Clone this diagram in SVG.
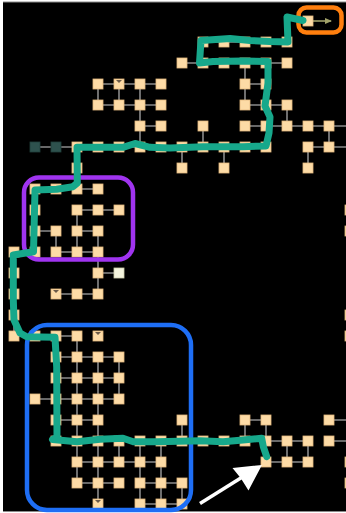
<svg xmlns="http://www.w3.org/2000/svg" xmlns:xlink="http://www.w3.org/1999/xlink" width="346" height="513" viewBox="0 0 346 513">
<style>
.n{fill:#fddba6;stroke:#e3b97f;stroke-width:0.8}
.dk{fill:#2e524e;stroke:#22403c;stroke-width:0.8}
.lt{fill:#f4f4de;stroke:#cfcfae;stroke-width:0.8}
.tri{fill:#6b5a48}
.edge{fill:none;stroke:#8a8a8a;stroke-width:1.6}
.green{fill:none;stroke:#17a88b;stroke-width:7;stroke-linecap:round;stroke-linejoin:round}
.box{fill:none;stroke-width:4.5}
</style>
<defs>
<rect id="nd" x="-5" y="-5" width="10" height="10" class="n"/>
<rect id="nk" x="-5" y="-5" width="10" height="10" class="dk"/>
<rect id="nl" x="-5" y="-5" width="10" height="10" class="lt"/>
<marker id="ah" markerWidth="8" markerHeight="8" refX="6" refY="4" orient="auto" markerUnits="userSpaceOnUse"><path d="M0,1 L7,4 L0,7 Z" fill="#a3a36a"/></marker>
</defs>
<rect x="0" y="0" width="346" height="513" fill="#ffffff"/>
<rect x="3" y="2" width="343" height="509.5" fill="#000000"/>
<line x1="3" y1="2" x2="346" y2="2" stroke="#8a8a8a" stroke-width="1"/>
<line x1="3" y1="511.5" x2="346" y2="511.5" stroke="#8a8a8a" stroke-width="1"/>

<g id="connectors">
<path class="edge" d="M203 42H287 M182 63H287 M98 84H161 M245 84H266 M98 105H161 M245 105H287 M140 126H161 M245 126H346 M35 147H266 M308 147H346 M35 189H98 M77 210H119 M35 231H56 M77 231H98 M56 252H98 M98 273H119 M56 294H98 M14 336H77 M56 357H119 M56 378H119 M35 399H119 M56 420H98 M245 420H266 M329 420H346 M56 441H308 M329 441H346 M77 462H161 M266 462H308 M77 483H119 M140 483H182 M140 504H182
M98 84V105 M98 231V294 M119 84V105 M140 84V147 M77 147V168 M77 210V252 M77 336V483 M182 147V168 M182 420V441 M182 483V504 M203 126V147 M224 147V168 M245 63V105 M245 420V441 M266 420V462 M287 105V126 M287 441V462 M308 147V168 M308 441V462 M329 126V147 M56 231V252 M56 336V441 M14 252V336 M98 357V504 M119 357V399 M119 441V462 M140 441V504 M161 441V504"/>
<line x1="313" y1="21" x2="331" y2="21" stroke="#a3a36a" stroke-width="1.6" marker-end="url(#ah)"/>
</g>

<g id="nodes">
<g id="n14_0"><use href="#nd" x="308" y="21"/></g>
<g id="n9_1"><use href="#nd" x="203" y="42"/></g>
<g id="n10_1"><use href="#nd" x="224" y="42"/></g>
<g id="n11_1"><use href="#nd" x="245" y="42"/></g>
<g id="n12_1"><use href="#nd" x="266" y="42"/></g>
<g id="n13_1"><use href="#nd" x="287" y="42"/></g>
<g id="n8_2"><use href="#nd" x="182" y="63"/></g>
<g id="n9_2"><use href="#nd" x="203" y="63"/></g>
<g id="n10_2"><use href="#nd" x="224" y="63"/></g>
<g id="n11_2"><use href="#nd" x="245" y="63"/></g>
<g id="n12_2"><use href="#nd" x="266" y="63"/></g>
<g id="n13_2"><use href="#nd" x="287" y="63"/></g>
<g id="n4_3"><use href="#nd" x="98" y="84"/></g>
<g id="n5_3"><use href="#nd" x="119" y="84"/><polygon class="tri" points="116,80 122,80 119,83"/></g>
<g id="n6_3"><use href="#nd" x="140" y="84"/></g>
<g id="n7_3"><use href="#nd" x="161" y="84"/></g>
<g id="n11_3"><use href="#nd" x="245" y="84"/></g>
<g id="n12_3"><use href="#nd" x="266" y="84"/></g>
<g id="n4_4"><use href="#nd" x="98" y="105"/></g>
<g id="n5_4"><use href="#nd" x="119" y="105"/></g>
<g id="n6_4"><use href="#nd" x="140" y="105"/></g>
<g id="n7_4"><use href="#nd" x="161" y="105"/></g>
<g id="n11_4"><use href="#nd" x="245" y="105"/></g>
<g id="n12_4"><use href="#nd" x="266" y="105"/></g>
<g id="n13_4"><use href="#nd" x="287" y="105"/></g>
<g id="n6_5"><use href="#nd" x="140" y="126"/></g>
<g id="n7_5"><use href="#nd" x="161" y="126"/></g>
<g id="n9_5"><use href="#nd" x="203" y="126"/></g>
<g id="n11_5"><use href="#nd" x="245" y="126"/></g>
<g id="n12_5"><use href="#nd" x="266" y="126"/></g>
<g id="n13_5"><use href="#nd" x="287" y="126"/></g>
<g id="n14_5"><use href="#nd" x="308" y="126"/></g>
<g id="n15_5"><use href="#nd" x="329" y="126"/></g>
<g id="n1_6"><use href="#nk" x="35" y="147"/></g>
<g id="n2_6"><use href="#nk" x="56" y="147"/></g>
<g id="n3_6"><use href="#nd" x="77" y="147"/></g>
<g id="n4_6"><use href="#nd" x="98" y="147"/></g>
<g id="n5_6"><use href="#nd" x="119" y="147"/></g>
<g id="n6_6"><use href="#nd" x="140" y="147"/></g>
<g id="n7_6"><use href="#nd" x="161" y="147"/></g>
<g id="n8_6"><use href="#nd" x="182" y="147"/></g>
<g id="n9_6"><use href="#nd" x="203" y="147"/></g>
<g id="n10_6"><use href="#nd" x="224" y="147"/></g>
<g id="n11_6"><use href="#nd" x="245" y="147"/></g>
<g id="n12_6"><use href="#nd" x="266" y="147"/></g>
<g id="n14_6"><use href="#nd" x="308" y="147"/></g>
<g id="n15_6"><use href="#nd" x="329" y="147"/></g>
<g id="n3_7"><use href="#nd" x="77" y="168"/></g>
<g id="n8_7"><use href="#nd" x="182" y="168"/></g>
<g id="n10_7"><use href="#nd" x="224" y="168"/></g>
<g id="n14_7"><use href="#nd" x="308" y="168"/></g>
<g id="n1_8"><use href="#nd" x="35" y="189"/></g>
<g id="n2_8"><use href="#nd" x="56" y="189"/></g>
<g id="n3_8"><use href="#nd" x="77" y="189"/></g>
<g id="n4_8"><use href="#nd" x="98" y="189"/></g>
<g id="n1_9"><use href="#nd" x="35" y="210"/></g>
<g id="n3_9"><use href="#nd" x="77" y="210"/></g>
<g id="n4_9"><use href="#nd" x="98" y="210"/></g>
<g id="n5_9"><use href="#nd" x="119" y="210"/></g>
<g id="n16_9"><use href="#nd" x="350" y="210"/></g>
<g id="n1_10"><use href="#nd" x="35" y="231"/></g>
<g id="n2_10"><use href="#nd" x="56" y="231"/></g>
<g id="n3_10"><use href="#nd" x="77" y="231"/></g>
<g id="n4_10"><use href="#nd" x="98" y="231"/></g>
<g id="n16_10"><use href="#nd" x="350" y="231"/></g>
<g id="n0_11"><use href="#nd" x="14" y="252"/></g>
<g id="n1_11"><use href="#nd" x="35" y="252"/></g>
<g id="n2_11"><use href="#nd" x="56" y="252"/></g>
<g id="n3_11"><use href="#nd" x="77" y="252"/></g>
<g id="n4_11"><use href="#nd" x="98" y="252"/></g>
<g id="n0_12"><use href="#nd" x="14" y="273"/></g>
<g id="n4_12"><use href="#nd" x="98" y="273"/></g>
<g id="n5_12"><use href="#nl" x="119" y="273"/></g>
<g id="n0_13"><use href="#nd" x="14" y="294"/></g>
<g id="n2_13"><use href="#nd" x="56" y="294"/><polygon class="tri" points="53,290 59,290 56,293"/></g>
<g id="n3_13"><use href="#nd" x="77" y="294"/></g>
<g id="n4_13"><use href="#nd" x="98" y="294"/></g>
<g id="n0_14"><use href="#nd" x="14" y="315"/></g>
<g id="n16_14"><use href="#nd" x="350" y="315"/></g>
<g id="n0_15"><use href="#nd" x="14" y="336"/></g>
<g id="n1_15"><use href="#nd" x="35" y="336"/></g>
<g id="n2_15"><use href="#nd" x="56" y="336"/></g>
<g id="n3_15"><use href="#nd" x="77" y="336"/></g>
<g id="n4_15"><use href="#nd" x="98" y="336"/><polygon class="tri" points="95,332 101,332 98,335"/></g>
<g id="n16_15"><use href="#nd" x="350" y="336"/></g>
<g id="n2_16"><use href="#nd" x="56" y="357"/></g>
<g id="n3_16"><use href="#nd" x="77" y="357"/></g>
<g id="n4_16"><use href="#nd" x="98" y="357"/></g>
<g id="n5_16"><use href="#nd" x="119" y="357"/></g>
<g id="n2_17"><use href="#nd" x="56" y="378"/></g>
<g id="n3_17"><use href="#nd" x="77" y="378"/></g>
<g id="n4_17"><use href="#nd" x="98" y="378"/></g>
<g id="n5_17"><use href="#nd" x="119" y="378"/></g>
<g id="n1_18"><use href="#nd" x="35" y="399"/></g>
<g id="n2_18"><use href="#nd" x="56" y="399"/></g>
<g id="n3_18"><use href="#nd" x="77" y="399"/></g>
<g id="n4_18"><use href="#nd" x="98" y="399"/></g>
<g id="n5_18"><use href="#nd" x="119" y="399"/></g>
<g id="n2_19"><use href="#nd" x="56" y="420"/></g>
<g id="n3_19"><use href="#nd" x="77" y="420"/></g>
<g id="n4_19"><use href="#nd" x="98" y="420"/></g>
<g id="n8_19"><use href="#nd" x="182" y="420"/></g>
<g id="n11_19"><use href="#nd" x="245" y="420"/></g>
<g id="n12_19"><use href="#nd" x="266" y="420"/></g>
<g id="n15_19"><use href="#nd" x="329" y="420"/></g>
<g id="n2_20"><use href="#nd" x="56" y="441"/></g>
<g id="n3_20"><use href="#nd" x="77" y="441"/></g>
<g id="n4_20"><use href="#nd" x="98" y="441"/></g>
<g id="n5_20"><use href="#nd" x="119" y="441"/></g>
<g id="n6_20"><use href="#nd" x="140" y="441"/></g>
<g id="n7_20"><use href="#nd" x="161" y="441"/></g>
<g id="n8_20"><use href="#nd" x="182" y="441"/></g>
<g id="n9_20"><use href="#nd" x="203" y="441"/></g>
<g id="n10_20"><use href="#nd" x="224" y="441"/></g>
<g id="n11_20"><use href="#nd" x="245" y="441"/></g>
<g id="n12_20"><use href="#nd" x="266" y="441"/></g>
<g id="n13_20"><use href="#nd" x="287" y="441"/></g>
<g id="n14_20"><use href="#nd" x="308" y="441"/></g>
<g id="n15_20"><use href="#nd" x="329" y="441"/></g>
<g id="n3_21"><use href="#nd" x="77" y="462"/></g>
<g id="n4_21"><use href="#nd" x="98" y="462"/></g>
<g id="n5_21"><use href="#nd" x="119" y="462"/></g>
<g id="n6_21"><use href="#nd" x="140" y="462"/></g>
<g id="n7_21"><use href="#nd" x="161" y="462"/></g>
<g id="n12_21"><use href="#nd" x="266" y="462"/></g>
<g id="n13_21"><use href="#nd" x="287" y="462"/></g>
<g id="n14_21"><use href="#nd" x="308" y="462"/></g>
<g id="n16_21"><use href="#nd" x="350" y="462"/></g>
<g id="n3_22"><use href="#nd" x="77" y="483"/></g>
<g id="n4_22"><use href="#nd" x="98" y="483"/></g>
<g id="n5_22"><use href="#nd" x="119" y="483"/></g>
<g id="n6_22"><use href="#nd" x="140" y="483"/></g>
<g id="n7_22"><use href="#nd" x="161" y="483"/></g>
<g id="n8_22"><use href="#nd" x="182" y="483"/></g>
<g id="n16_22"><use href="#nd" x="350" y="483"/></g>
<g id="n4_23"><use href="#nd" x="98" y="504"/><polygon class="tri" points="95,500 101,500 98,503"/></g>
<g id="n6_23"><use href="#nd" x="140" y="504"/></g>
<g id="n7_23"><use href="#nd" x="161" y="504"/></g>
<g id="n8_23"><use href="#nd" x="182" y="504"/></g>
</g>

<g id="annotations">
<rect class="box" x="298.5" y="7.5" width="43" height="25" rx="8" stroke="#ff7f0e"/>
<rect class="box" x="24" y="177.5" width="109" height="82" rx="15" stroke="#a034f0"/>
<rect class="box" x="27" y="325" width="164" height="185" rx="20" stroke="#1e6ef5"/>
<path class="green" d="M303 20.5 L287 17 L288 42 L270 41.5 L250 40.5 L230 38.5 L201 40.5 L199.5 63 L213 61.5 L243 61 L268 61.5 L268 83 L265 106 L270 117 L269 133 L266 146 L243 146.7 L203 146.7 L170 148 L150 147.3 L135 143.5 L123 147.3 L100 147.3 L77 147.3 L77.3 183 L73 186.7 L56.7 189.3 L35 190 L33.5 251.7 L13.3 255 L13.3 300 L14 320 L20 333 L26.7 336.7 L55 337.3 L56.7 366.7 L57 437 L52.5 439.5 L77 441.7 L100 439.3 L123 438.3 L133.3 441.7 L157 441.7 L200 440.7 L223 441.7 L243 440 L261.7 438.3 L263.3 446.7 L266.7 456.7"/>
<line x1="200" y1="503.5" x2="244" y2="476" stroke="#ffffff" stroke-width="3.5"/>
<polygon points="262,465 232.5,468 241,478.5 248.5,490.5" fill="#ffffff"/>
</g>
</svg>
